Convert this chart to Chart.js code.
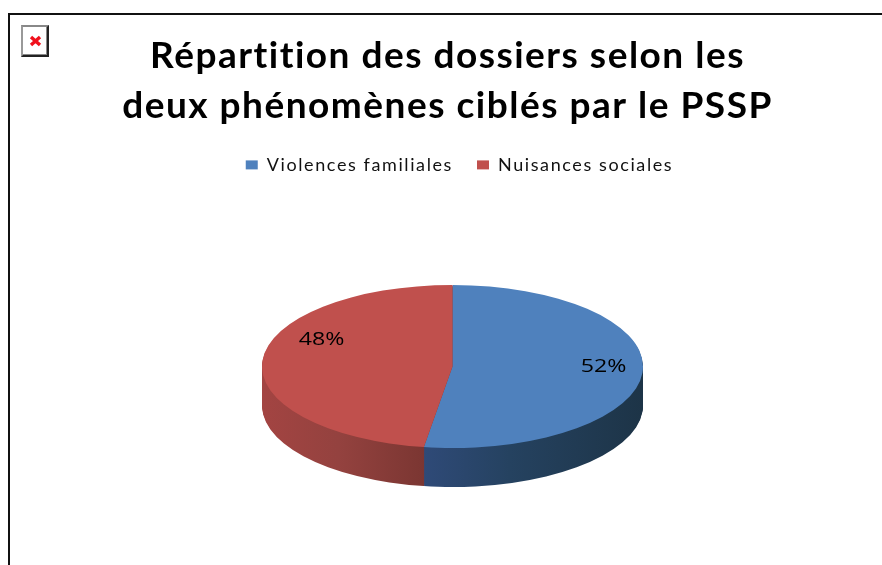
<!DOCTYPE html>
<html><head><meta charset="utf-8">
<style>
html,body{margin:0;padding:0;background:#fff;width:882px;height:565px;overflow:hidden}
#frame{position:absolute;left:8px;top:13px;width:874px;height:552px;border-left:2px solid #111;border-top:2px solid #111;box-sizing:border-box}
#broken{position:absolute;left:21px;top:25px;width:28px;height:32px;box-sizing:border-box;background:#fff;border-top:2px solid #888;border-left:2px solid #999;border-right:2px solid #222;border-bottom:2px solid #222;box-shadow:inset -1px -1px 0 #888}
#broken svg{position:absolute;left:6px;top:8px}
canvas{position:absolute;left:0;top:0}
</style>
<script src="https://cdn.jsdelivr.net/npm/chart.js@4"></script>
</head><body>
<div id="frame"></div>
<canvas id="c" width="882" height="700"></canvas>
<div id="broken"><svg width="13" height="12" viewBox="0 0 13 12"><path d="M2 2L11 10M11 2L2 10" stroke="#f0101c" stroke-width="3.4"/></svg></div>
<script>
const categories = ["Violences familiales", "Nuisances sociales"];
const shares = [52.4, 47.6];
const titleLines = ["Répartition des dossiers selon les", "deux phénomènes ciblés par le PSSP"];
const baseColors = ["#4f81bd", "#c0504d"];
const wallStops = [
  [[0, "#2f4a78"], [0.42, "#2f4a78"], [0.65, "#254260"], [1, "#1d3447"]],
  [[0, "#a34442"], [0.2, "#94423f"], [0.425, "#7b3632"], [1, "#7b3632"]]
];
const squash = 0.428, depth = 39, surfaceY = 366.5;
const labelOffsets = [[151, 0.5], [-131, -26.5]];
const titleStyle = { spacing: "1.5px", shift: -5 };
const legendStyle = { spacing: "1.6px", shift: 7 };

function withStyle(ctx, style, draw) {
  ctx.save();
  ctx.letterSpacing = style.spacing;
  ctx.translate(style.shift, 0);
  draw();
  ctx.restore();
}

const textStyle = {
  id: "textStyle",
  beforeLayout(chart) { chart.ctx.letterSpacing = legendStyle.spacing; },
  afterLayout(chart) {
    const ctx = chart.ctx;
    ctx.letterSpacing = "0px";
    [[chart.titleBlock, titleStyle], [chart.legend, legendStyle]].forEach(([box, style]) => {
      if (box._styled) return;
      box._styled = true;
      const original = box.draw;
      box.draw = function () { withStyle(ctx, style, () => original.call(box)); };
    });
  }
};

const pie3d = {
  id: "pie3d",
  beforeDatasetDraw(chart, args) {
    const ctx = chart.ctx, meta = chart.getDatasetMeta(args.index);
    const { x: cx, y: cy, outerRadius: R } = meta.data[0];
    const place = (off) => { ctx.translate(0, surfaceY + off); ctx.scale(1, squash); ctx.translate(0, -cy); };
    for (let off = depth; off > 0; off--) {
      meta.data.forEach((arc, i) => {
        const g = ctx.createLinearGradient(cx - R, 0, cx + R, 0);
        wallStops[i].forEach(s => g.addColorStop(s[0], s[1]));
        ctx.save(); place(off);
        arc.options.backgroundColor = g;
        arc.options.borderWidth = 0;
        arc.draw(ctx);
        ctx.restore();
      });
    }
    meta.data.forEach((arc, i) => {
      ctx.save(); place(0);
      arc.options.backgroundColor = baseColors[i];
      arc.draw(ctx);
      ctx.restore();
    });
    return false;
  }
};

const labelPlugin = {
  id: "pctLabels",
  afterDatasetsDraw(chart) {
    const ctx = chart.ctx, meta = chart.getDatasetMeta(0);
    meta.data.forEach((arc, i) => {
      ctx.save();
      ctx.translate(arc.x + labelOffsets[i][0], surfaceY + labelOffsets[i][1]);
      ctx.scale(1.22, 1);
      ctx.font = '19px "Open Sans", sans-serif';
      ctx.fillStyle = "#000"; ctx.textAlign = "center"; ctx.textBaseline = "middle";
      ctx.fillText(Math.round(shares[i]) + "%", 0, 0);
      ctx.restore();
    });
  }
};

new Chart(document.getElementById("c"), {
  type: "pie",
  data: { labels: categories, datasets: [{ data: shares, backgroundColor: baseColors, borderWidth: 0, radius: 190.5 }] },
  plugins: [textStyle, pie3d, labelPlugin],
  options: {
    responsive: false, animation: false,
    layout: { padding: { left: 23, right: 0, top: 0, bottom: 0 } },
    plugins: {
      tooltip: { enabled: false },
      title: { display: true, text: titleLines, color: "#000", padding: { top: 31, bottom: 1 },
        font: { family: 'Lato, sans-serif', size: 37, weight: "bold", lineHeight: 1.35 } },
      legend: { position: "top", labels: { color: "#111", boxWidth: 12, boxHeight: 9, padding: 24,
        font: { family: 'Lato, sans-serif', size: 18 } } }
    }
  }
});
</script>
</body></html>
